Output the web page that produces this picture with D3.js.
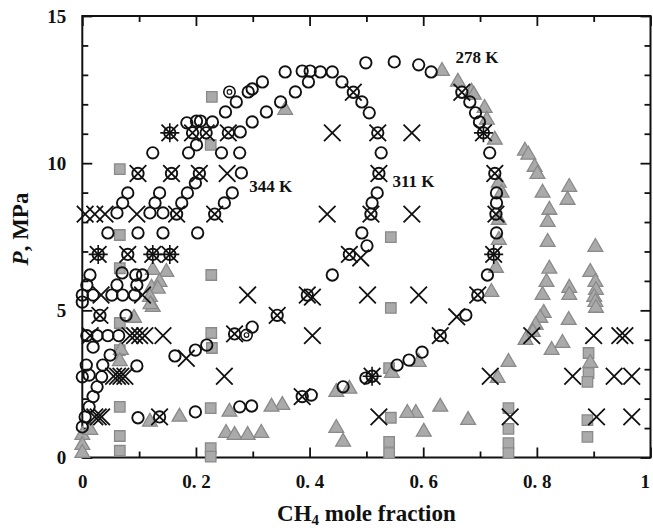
<!DOCTYPE html>
<html>
<head>
<meta charset="utf-8">
<script src="https://cdnjs.cloudflare.com/ajax/libs/d3/7.8.5/d3.min.js"></script>
<style>
html, body { margin: 0; padding: 0; background: #fff; overflow: hidden; }
svg { display: block; }
text { font-family: "Liberation Serif", "Times New Roman", serif; font-weight: bold; fill: #111; }
.tick text { font-size: 19px; }
.temp { font-size: 17px; }
.title { font-size: 23px; }
</style>
</head>
<body>
<svg id="visualisation" width="653" height="531"></svg>
<script>
// tick values and labels
var xTicks = [0, 0.2, 0.4, 0.6, 0.8, 1];
var xTickLabels = ["0", "0. 2", "0. 4", "0. 6", "0. 8", "1"];
var xMinor = [0.1, 0.3, 0.5, 0.7, 0.9];
var yTicks = [0, 5, 10, 15];
var yTickLabels = ["0", "5", "10", "15"];
var yMinor = [1, 2, 3, 4, 6, 7, 8, 9, 11, 12, 13, 14];

// temperature labels: [text, x fraction, P]
var tempLabels = [["278 K", 0.657, 13.4], ["344 K", 0.294, 9.01], ["311 K", 0.546, 9.2]];

// open circles, [CH4 mole fraction, P MPa]
var circles278 = [
    [0.499, 13.41], [0.549, 13.44], [0.592, 13.34], [0.614, 13.10], [0.668, 12.41], [0.682, 12.08],
    [0.692, 11.71], [0.699, 11.40], [0.706, 11.03], [0.717, 10.35], [0.726, 9.65], [0.729, 8.99],
    [0.729, 8.65], [0.728, 8.27], [0.729, 7.63], [0.724, 6.90], [0.713, 6.20], [0.696, 5.52],
    [0.675, 4.84], [0.630, 4.14], [0.598, 3.58], [0.575, 3.31], [0.554, 3.14], [0.510, 2.76],
    [0.499, 2.70], [0.459, 2.40], [0.403, 2.12], [0.387, 2.07], [0.298, 1.75], [0.277, 1.72],
    [0.199, 1.55], [0.136, 1.38], [0.098, 1.35]
];
var circles311 = [
    [0.229, 11.40], [0.252, 11.74], [0.271, 12.08], [0.292, 12.42], [0.299, 12.52], [0.317, 12.76],
    [0.357, 13.10], [0.387, 13.13], [0.401, 13.13], [0.419, 13.10], [0.440, 13.10], [0.278, 11.06],
    [0.299, 11.40], [0.324, 11.74], [0.349, 12.08], [0.375, 12.42], [0.398, 12.76], [0.457, 12.76],
    [0.477, 12.41], [0.492, 12.08], [0.505, 11.71], [0.520, 11.03], [0.526, 10.35], [0.522, 9.65],
    [0.519, 8.99], [0.510, 8.65], [0.508, 8.27], [0.492, 7.63], [0.501, 7.19], [0.470, 6.90],
    [0.440, 6.20], [0.396, 5.52], [0.343, 4.83], [0.299, 4.43], [0.268, 4.20], [0.219, 3.82],
    [0.199, 3.65], [0.163, 3.45], [0.096, 3.11]
];
var circles344 = [
    [0.184, 11.37], [0.201, 11.43], [0.208, 11.43], [0.154, 11.03], [0.194, 11.03], [0.218, 11.03],
    [0.257, 11.03], [0.201, 10.62], [0.187, 10.35], [0.124, 10.35], [0.245, 10.35], [0.277, 10.35],
    [0.098, 9.65], [0.157, 9.65], [0.206, 9.65], [0.280, 9.67], [0.199, 9.33], [0.264, 8.99],
    [0.250, 8.65], [0.233, 8.27], [0.080, 8.99], [0.136, 8.99], [0.185, 8.99], [0.071, 8.65],
    [0.128, 8.65], [0.175, 8.65], [0.061, 8.31], [0.119, 8.31], [0.142, 8.31], [0.166, 8.27],
    [0.045, 7.63], [0.098, 7.63], [0.142, 7.63], [0.203, 7.63], [0.028, 6.90], [0.080, 6.90],
    [0.124, 6.90], [0.154, 6.90], [0.0135, 6.20], [0.070, 6.27], [0.094, 6.20], [0.106, 6.20],
    [0.008, 5.86], [0.061, 5.86], [0.096, 5.86], [0.0, 5.52], [0.019, 5.52], [0.052, 5.52],
    [0.071, 5.52], [0.092, 5.52], [0.0, 5.28], [0.031, 4.83], [0.077, 4.83], [0.008, 4.14],
    [0.026, 4.14], [0.045, 4.14], [0.064, 4.14], [0.019, 3.75], [0.049, 3.48], [0.007, 3.14],
    [0.036, 3.14], [0.0, 2.74], [0.012, 2.80], [0.034, 2.74], [0.026, 2.40], [0.019, 2.07],
    [0.012, 1.72], [0.005, 1.38], [0.0, 1.04]
];
var bullseye = [[0.259, 12.42], [0.289, 4.16]];

// crosses
var crosses = [
    [0.477, 12.41], [0.668, 12.41],
    [0.154, 11.03], [0.194, 11.03], [0.218, 11.03], [0.257, 11.03], [0.440, 11.03], [0.520, 11.03], [0.580, 11.03], [0.706, 11.03],
    [0.098, 9.65], [0.157, 9.65], [0.206, 9.65], [0.255, 9.65], [0.522, 9.65], [0.726, 9.65],
    [0.005, 8.27], [0.022, 8.27], [0.040, 8.27], [0.096, 8.27], [0.166, 8.27], [0.233, 8.27], [0.431, 8.27], [0.508, 8.27], [0.580, 8.27], [0.728, 8.27],
    [0.028, 6.90], [0.080, 6.90], [0.124, 6.90], [0.154, 6.90], [0.470, 6.90], [0.724, 6.90], [0.490, 6.78],
    [0.033, 5.52], [0.106, 5.52], [0.291, 5.52], [0.396, 5.52], [0.405, 5.45], [0.502, 5.52], [0.592, 5.52], [0.696, 5.52],
    [0.031, 4.83], [0.343, 4.83], [0.659, 4.78],
    [0.014, 4.14], [0.084, 4.14], [0.092, 4.14], [0.101, 4.14], [0.110, 4.14], [0.142, 4.14], [0.268, 4.20], [0.405, 4.14],
    [0.630, 4.14], [0.791, 4.14], [0.900, 4.14], [0.946, 4.14], [0.955, 4.14],
    [0.183, 3.37],
    [0.055, 2.76], [0.062, 2.76], [0.068, 2.76], [0.075, 2.76], [0.250, 2.76], [0.510, 2.76], [0.718, 2.76], [0.863, 2.76], [0.936, 2.76], [0.967, 2.76],
    [0.387, 2.07],
    [0.022, 1.38], [0.028, 1.38], [0.034, 1.38], [0.136, 1.38], [0.522, 1.38], [0.753, 1.38], [0.905, 1.38], [0.967, 1.38]
];
// plus marks laid over some of the crossed circles
var pluses = [[0.028, 6.90], [0.124, 6.90], [0.154, 6.90], [0.154, 11.03], [0.706, 11.03], [0.724, 6.90], [0.510, 2.76]];

// gray squares
var squares = [
    [0.228, 12.25], [0.226, 10.62], [0.066, 9.80], [0.066, 7.56], [0.066, 6.43], [0.227, 6.20], [0.066, 4.57],
    [0.227, 4.23], [0.228, 3.72], [0.066, 3.65], [0.066, 1.72], [0.066, 0.73], [0.066, 0.23], [0.226, 1.68],
    [0.226, 0.32], [0.226, 0.03], [0.543, 7.49], [0.543, 5.08], [0.540, 3.04], [0.543, 1.35], [0.540, 0.53],
    [0.540, 0.15], [0.750, 1.68], [0.750, 0.97], [0.750, 0.49], [0.750, 0.15], [0.891, 3.55], [0.891, 2.87],
    [0.889, 2.57], [0.889, 1.27], [0.889, 0.70]
];

// gray triangles
var triangles = [
    [0.633, 13.13], [0.661, 12.76], [0.685, 12.42], [0.689, 12.32], [0.708, 11.87], [0.712, 11.47], [0.726, 10.79],
    [0.733, 9.33], [0.738, 8.99], [0.733, 8.07], [0.733, 7.39], [0.728, 6.44], [0.720, 5.62],
    [0.779, 10.42], [0.785, 10.28], [0.796, 9.87], [0.801, 9.63], [0.810, 8.99], [0.822, 8.41], [0.819, 8.00],
    [0.819, 7.32], [0.822, 6.41], [0.817, 5.96], [0.810, 5.52], [0.812, 4.91], [0.806, 4.74], [0.798, 4.50],
    [0.793, 4.26], [0.780, 3.99], [0.826, 3.65], [0.845, 3.89], [0.750, 3.24], [0.731, 2.70],
    [0.857, 9.19], [0.854, 8.75], [0.857, 5.76], [0.857, 5.52], [0.856, 4.67],
    [0.903, 7.15], [0.894, 6.30], [0.903, 5.96], [0.904, 5.69], [0.901, 5.45], [0.903, 5.28], [0.904, 5.08], [0.894, 3.21],
    [0.630, 1.72], [0.679, 1.27], [0.601, 0.87], [0.592, 3.24], [0.587, 1.51], [0.572, 1.51], [0.545, 2.87],
    [0.447, 2.22], [0.470, 2.33], [0.447, 1.00], [0.459, 0.53], [0.352, 1.78], [0.333, 1.72], [0.259, 1.55],
    [0.253, 0.83], [0.268, 0.76], [0.291, 0.76], [0.315, 0.83], [0.357, 11.80], [0.171, 1.38], [0.119, 1.21],
    [0.124, 6.37], [0.148, 6.30], [0.136, 5.96], [0.122, 5.76], [0.133, 5.73], [0.119, 5.45], [0.124, 5.11],
    [0.120, 5.20], [0.091, 4.74], [0.068, 3.65], [0.066, 3.27],
    [0.0, 0.76], [0.0, 0.42], [0.0, 0.15], [0.014, 0.93]
];

var vis = d3.select("#visualisation"),
    MARGINS = { top: 16, right: 650.5, bottom: 457.5, left: 82.3 };

var xScale = d3.scaleLinear().domain([0, 1]).range([MARGINS.left, MARGINS.right]);
var yScale = d3.scaleLinear().domain([0, 15]).range([MARGINS.bottom, MARGINS.top]);

function styleAxis(g) {
    g.select(".domain").remove();
    g.selectAll(".tick line").attr("stroke", "#111").attr("stroke-width", 1.8);
    g.attr("font-family", null).attr("font-size", null);
}

// bottom axis, major + minor ticks pointing inward
var xAxisG = vis.append("g")
    .attr("transform", "translate(0," + MARGINS.bottom + ")")
    .call(d3.axisBottom(xScale).tickValues(xTicks)
        .tickFormat(function (d, i) { return xTickLabels[i]; })
        .tickSizeInner(-10).tickSizeOuter(0).tickPadding(17))
    .call(styleAxis);
// last label sits against the right edge, nudge it inside
xAxisG.selectAll(".tick text")
    .filter(function (d, i, n) { return i === n.length - 1; })
    .attr("dx", "-0.3em");

vis.append("g")
    .attr("transform", "translate(0," + MARGINS.bottom + ")")
    .call(d3.axisBottom(xScale).tickValues(xMinor).tickFormat("").tickSizeInner(-6).tickSizeOuter(0))
    .call(styleAxis);
// top axis
vis.append("g")
    .attr("transform", "translate(0," + MARGINS.top + ")")
    .call(d3.axisTop(xScale).tickValues(xTicks).tickFormat("").tickSizeInner(-10).tickSizeOuter(0))
    .call(styleAxis);
vis.append("g")
    .attr("transform", "translate(0," + MARGINS.top + ")")
    .call(d3.axisTop(xScale).tickValues(xMinor).tickFormat("").tickSizeInner(-6).tickSizeOuter(0))
    .call(styleAxis);
// left axis
vis.append("g")
    .attr("transform", "translate(" + MARGINS.left + ",0)")
    .call(d3.axisLeft(yScale).tickValues(yTicks)
        .tickFormat(function (d, i) { return yTickLabels[i]; })
        .tickSizeInner(-10).tickSizeOuter(0).tickPadding(16))
    .call(styleAxis);
vis.append("g")
    .attr("transform", "translate(" + MARGINS.left + ",0)")
    .call(d3.axisLeft(yScale).tickValues(yMinor).tickFormat("").tickSizeInner(-6).tickSizeOuter(0))
    .call(styleAxis);
// right axis
vis.append("g")
    .attr("transform", "translate(" + MARGINS.right + ",0)")
    .call(d3.axisRight(yScale).tickValues(yTicks).tickFormat("").tickSizeInner(-10).tickSizeOuter(0))
    .call(styleAxis);
vis.append("g")
    .attr("transform", "translate(" + MARGINS.right + ",0)")
    .call(d3.axisRight(yScale).tickValues(yMinor).tickFormat("").tickSizeInner(-6).tickSizeOuter(0))
    .call(styleAxis);

// frame
vis.append("rect")
    .attr("x", MARGINS.left).attr("y", MARGINS.top)
    .attr("width", MARGINS.right - MARGINS.left)
    .attr("height", MARGINS.bottom - MARGINS.top)
    .attr("fill", "none").attr("stroke", "#111").attr("stroke-width", 2);

function pos(d) { return "translate(" + xScale(d[0]) + "," + yScale(d[1]) + ")"; }
function crossPath(s) { return "M" + -s + "," + -s + "L" + s + "," + s + "M" + -s + "," + s + "L" + s + "," + -s; }
function plusPath(s) { return "M" + -s + ",0L" + s + ",0M0," + -s + "L0," + s; }

var marks = vis.append("g");

marks.selectAll(".sq").data(squares).enter().append("path")
    .attr("d", d3.symbol(d3.symbolSquare, 110))
    .attr("transform", pos)
    .attr("fill", "#aaaaaa").attr("stroke", "#8a8a8a").attr("stroke-width", 1.3);

marks.selectAll(".tri").data(triangles).enter().append("path")
    .attr("d", d3.symbol(d3.symbolTriangle, 95))
    .attr("transform", pos)
    .attr("fill", "#aaaaaa").attr("stroke", "#8a8a8a").attr("stroke-width", 1.3);

var allCircles = circles278.concat(circles311, circles344);
marks.selectAll(".circ").data(allCircles).enter().append("circle")
    .attr("transform", pos)
    .attr("r", 5.7)
    .attr("fill", "none").attr("stroke", "#111").attr("stroke-width", 1.9);

marks.selectAll(".bull").data(bullseye).enter().append("g")
    .attr("transform", pos)
    .each(function () {
        d3.select(this).append("circle").attr("r", 5.7)
            .attr("fill", "none").attr("stroke", "#111").attr("stroke-width", 1.6);
        d3.select(this).append("circle").attr("r", 2.3)
            .attr("fill", "none").attr("stroke", "#111").attr("stroke-width", 1.2);
    });

marks.selectAll(".cross").data(crosses).enter().append("path")
    .attr("d", crossPath(8.3))
    .attr("transform", pos)
    .attr("fill", "none").attr("stroke", "#111").attr("stroke-width", 1.8);

marks.selectAll(".plus").data(pluses).enter().append("path")
    .attr("d", plusPath(9.5))
    .attr("transform", pos)
    .attr("fill", "none").attr("stroke", "#111").attr("stroke-width", 1.6);

// isotherm labels
vis.selectAll(".temp").data(tempLabels).enter().append("text")
    .attr("class", "temp")
    .attr("x", function (d) { return xScale(d[1]); })
    .attr("y", function (d) { return yScale(d[2]); })
    .text(function (d) { return d[0]; });

// axis titles
var xt = vis.append("text")
    .attr("class", "title")
    .attr("x", (MARGINS.left + MARGINS.right) / 2)
    .attr("y", 521)
    .style("text-anchor", "middle");
xt.append("tspan").text("CH");
xt.append("tspan").attr("dy", 4).style("font-size", "15px").text("4");
xt.append("tspan").attr("dy", -4).text(" mole fraction");

var yt = vis.append("text")
    .attr("class", "title")
    .attr("transform", "rotate(-90)")
    .attr("x", -229)
    .attr("y", 28)
    .style("text-anchor", "middle");
yt.append("tspan").style("font-style", "italic").text("P");
yt.append("tspan").text(", MPa");
</script>
</body>
</html>
